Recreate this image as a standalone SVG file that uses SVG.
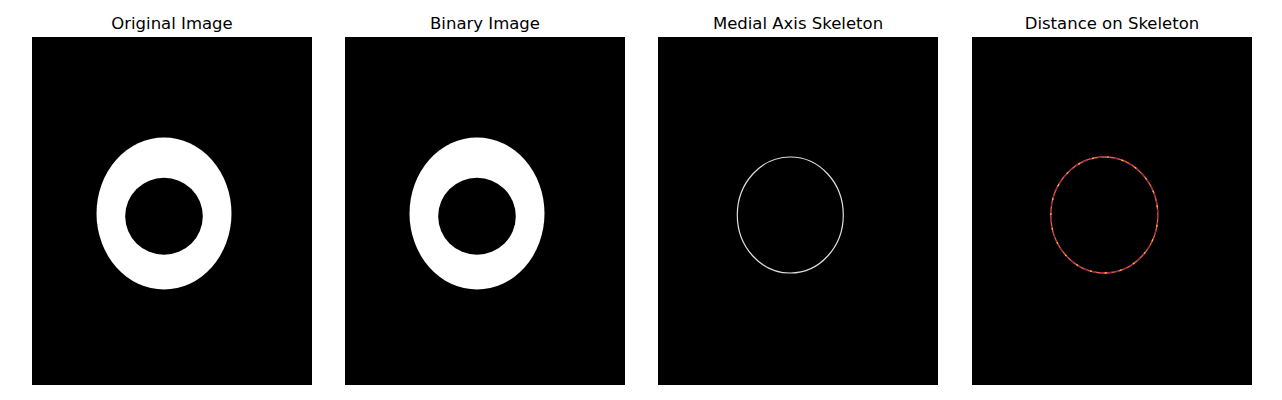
<svg xmlns="http://www.w3.org/2000/svg" width="1282" height="400" viewBox="0 0 1282 400">
<style>
.t{font-family:"DejaVu Sans",sans-serif;font-size:16.5px;fill:#000;text-anchor:middle}
.ax{fill:#000}
</style>
<rect width="1282" height="400" fill="#fff"/>
<g id="panel1">
<text class="t" x="172" y="29">Original Image</text>
<rect class="ax" x="32" y="37" width="280" height="348"/>
<ellipse cx="164" cy="213.5" rx="67.5" ry="76" fill="#fff"/>
<ellipse cx="164" cy="216.3" rx="38.8" ry="38.5" fill="#000"/>
</g>
<g id="panel2">
<text class="t" x="485" y="29">Binary Image</text>
<rect class="ax" x="345" y="37" width="280" height="348"/>
<ellipse cx="477" cy="213.5" rx="67.5" ry="76" fill="#fff"/>
<ellipse cx="477" cy="216.3" rx="38.8" ry="38.5" fill="#000"/>
</g>
<g id="panel3">
<text class="t" x="798" y="29">Medial Axis Skeleton</text>
<rect class="ax" x="658" y="37" width="280" height="348"/>
<ellipse cx="790.3" cy="215" rx="53" ry="58" fill="none" stroke="#ddd" stroke-width="1.2"/>
</g>
<g id="panel4">
<text class="t" x="1112" y="29">Distance on Skeleton</text>
<rect class="ax" x="972" y="37" width="280" height="348"/>
<ellipse cx="1104.3" cy="215" rx="53.5" ry="58" fill="none" stroke="#e8602a" stroke-width="1.3"/>
<ellipse cx="1104.3" cy="215" rx="53.5" ry="58" fill="none" stroke="#8a2270" stroke-width="1.3" stroke-dasharray="4 4"/>
<ellipse cx="1104.3" cy="215" rx="53.5" ry="58" fill="none" stroke="#fcb82c" stroke-width="1.3" stroke-dasharray="2 13" stroke-dashoffset="5"/>
</g>
</svg>
